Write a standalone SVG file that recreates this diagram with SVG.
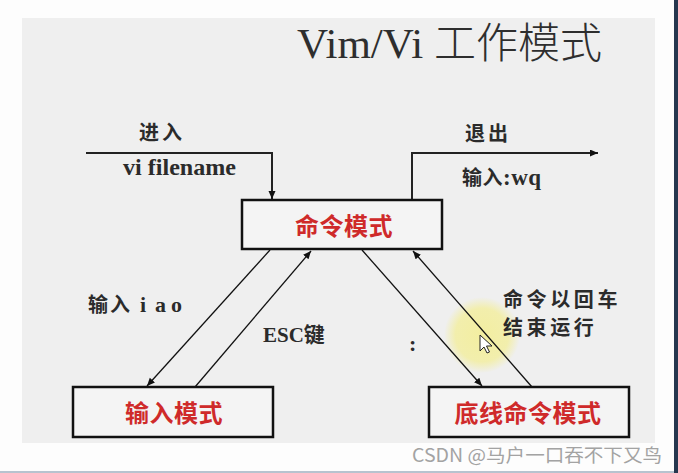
<svg xmlns="http://www.w3.org/2000/svg" width="678" height="473" viewBox="0 0 678 473">
  <defs>
    <marker id="ah" markerUnits="userSpaceOnUse" markerWidth="9" markerHeight="8" refX="8" refY="3.5" orient="auto">
      <path d="M0,0 L8,3.5 L0,7 z" fill="#111"/>
    </marker>
    <radialGradient id="glow" cx="0.5" cy="0.5" r="0.5">
      <stop offset="0" stop-color="#f3ee9c" stop-opacity="0.95"/>
      <stop offset="0.7" stop-color="#f3ee9c" stop-opacity="0.8"/>
      <stop offset="1" stop-color="#f3ee9c" stop-opacity="0"/>
    </radialGradient>
    <style>
      .box { fill: #f4f4f4; stroke: #111; stroke-width: 2.5; }
      .mode { font-family: "Noto Sans CJK SC", "Noto Sans", sans-serif; font-size: 24px; font-weight: bold; fill: #cf2a2a; text-anchor: middle; letter-spacing: 0.5px; }
      .lbl { font-family: "Liberation Serif", "Noto Sans CJK SC", serif; font-weight: bold; fill: #2b2b2b; }
      .cjk { font-family: "Noto Sans CJK SC", sans-serif; font-weight: bold; fill: #2b2b2b; }
      .conn { fill: none; stroke: #111; stroke-width: 1.3; }
      .thick { fill: none; stroke: #222; stroke-width: 2; }
    </style>
  </defs>

  <rect x="0" y="0" width="678" height="473" fill="#fdfdfd"/>
  <rect x="22" y="18" width="633" height="425" fill="#efefef"/>
  <rect x="674" y="0" width="4" height="473" fill="#26374f"/>
  <rect x="0" y="471" width="674" height="2" fill="#b7c3cf"/>

  <text x="297" y="58" font-family="Liberation Serif, Noto Sans CJK SC, serif" font-size="43" fill="#2e2e2e">Vim/Vi <tspan font-family="Noto Sans CJK SC, sans-serif" font-weight="300" font-size="42">工作模式</tspan></text>

  <circle cx="482" cy="335" r="38" fill="url(#glow)"/>

  <g id="connectors">
    <path class="thick" d="M86,153 H272 V199" marker-end="url(#ah)"/>
    <path class="thick" d="M412,200 V153 H598" marker-end="url(#ah)"/>
    <line class="conn" x1="270" y1="250" x2="147" y2="386" marker-end="url(#ah)"/>
    <line class="conn" x1="195" y1="387" x2="311" y2="251" marker-end="url(#ah)"/>
    <line class="conn" x1="362" y1="250" x2="482" y2="386" marker-end="url(#ah)"/>
    <line class="conn" x1="532" y1="387" x2="413" y2="251" marker-end="url(#ah)"/>
  </g>

  <g id="labels">
    <text class="cjk" x="139" y="140" font-size="20" letter-spacing="3">进入</text>
    <text class="lbl" x="123" y="175" font-size="23" textLength="113" lengthAdjust="spacingAndGlyphs">vi filename</text>
    <text class="cjk" x="465" y="141" font-size="20" letter-spacing="3">退出</text>
    <text class="cjk" x="462" y="185" font-size="20" letter-spacing="0.5">输入<tspan class="lbl" font-size="23">:wq</tspan></text>
    <text class="cjk" x="88" y="312" font-size="20" letter-spacing="2">输入</text>
    <text class="lbl" y="312" font-size="22"><tspan x="140">i</tspan><tspan x="155">a</tspan><tspan x="171">o</tspan></text>
    <text class="lbl" x="263" y="342" font-size="21">ESC<tspan class="cjk" font-size="21">键</tspan></text>
    <text class="lbl" x="409" y="351" font-size="22">:</text>
    <text class="cjk" x="503" y="307" font-size="20" letter-spacing="3.6">命令以回车</text>
    <text class="cjk" x="503" y="335" font-size="20" letter-spacing="3.6">结束运行</text>
  </g>

  <g id="command-mode">
    <rect class="box" x="242" y="200" width="200" height="49"/>
    <text class="mode" x="344" y="235">命令模式</text>
  </g>
  <g id="insert-mode">
    <rect class="box" x="73" y="387" width="200" height="50"/>
    <text class="mode" x="174" y="422">输入模式</text>
  </g>
  <g id="lastline-mode">
    <rect class="box" x="429" y="387" width="200" height="50"/>
    <text class="mode" x="528" y="422">底线命令模式</text>
  </g>

  <path d="M480,335 L480,351 L484,347 L487,353 L489.5,352 L486.5,346 L492,346 Z" fill="#fff" stroke="#222" stroke-width="1"/>

  <text x="412" y="462" font-family="Noto Sans CJK SC, Noto Sans, sans-serif" font-size="18.5" fill="#a3a3a3" textLength="250" lengthAdjust="spacingAndGlyphs">CSDN @马户一口吞不下又鸟</text>
</svg>
